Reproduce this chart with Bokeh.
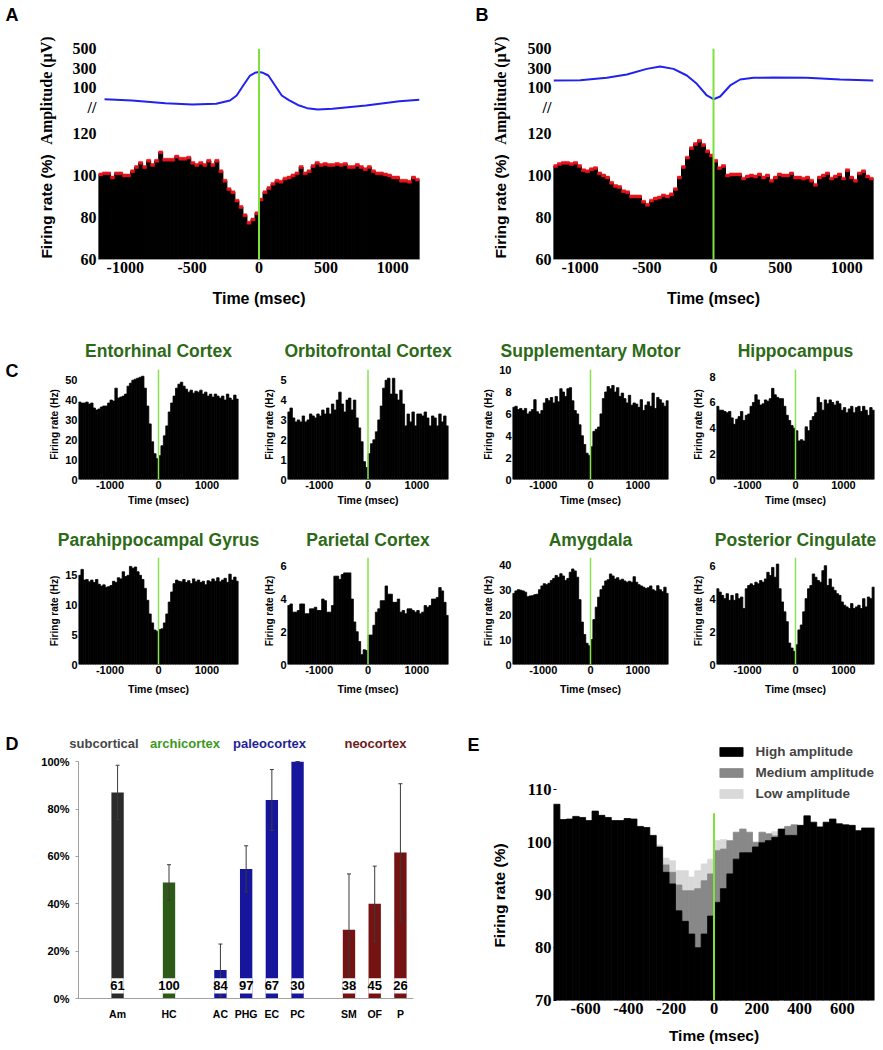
import numpy as np
from bokeh.plotting import figure
from bokeh.layouts import row, column
from bokeh.models import (Range1d, FixedTicker, CustomJSTickFormatter, Span, FactorRange,
                          ColumnDataSource, Legend, LegendItem, PrintfTickFormatter)
from bokeh.core.properties import value
from bokeh.embed import file_html
from bokeh.resources import INLINE

NaN = float("nan")

# ---------------- data ----------------
# Panels A / B : population firing rate (% of baseline), 30 ms bins from -1200 ms
AB_BIN_START, AB_BIN_WIDTH = -1200, 30
A_RATE = [100.5, 101, 101, 99, 101, 101, 100, 100, 102, 104,
          106, 104, 107, 105, 107, 111, 107.5, 107.5, 107.5, 109,
          108, 108, 108.5, 106, 105, 106, 105, 107, 105, 107,
          102, 97.5, 93.5, 92, 88, 85, 81, 77.5, 79, 82,
          88.5, 92, 94, 96, 97.5, 97, 98.5, 99, 100, 101,
          104, 101, 102, 104.5, 106, 105, 105.5, 105, 105, 105.5,
          105, 105.5, 104, 104, 105, 104, 103, 104, 102, 101,
          101, 100.5, 100, 99, 99, 97.5, 97.5, 97, 99, 98]
B_RATE = [104.5, 105.5, 106, 106, 105.5, 106, 104.5, 102.5, 102, 103,
          103.5, 101, 100, 99, 96.5, 95, 94.5, 92.5, 92, 90,
          90, 90, 87.5, 86, 88, 89, 89.5, 90.5, 90, 91,
          93.5, 99, 104, 108.5, 113, 115, 116.5, 114.5, 111.5, 109.5,
          107, 103.5, 104.5, 100, 100.5, 100.5, 100.5, 98.5, 99.5, 100,
          99.5, 100.5, 99, 100, 97.5, 99, 100.5, 100, 100, 101,
          99, 99, 98.5, 99, 97.5, 95.5, 99, 100, 101, 98.5,
          99.5, 100.5, 98.5, 102.5, 99, 97.5, 101, 102, 99.5, 98.5]
AB_SEM = 0.7
# mean LFP amplitude (uV) traces
A_AMP_T = [-1155, -950, -700, -500, -320, -217, -167, -118, -67, -30, 0, 30, 70, 120, 170, 220,
           290, 360, 440, 550, 800, 1050, 1200]
A_AMP_UV = [-15, -28, -56, -69, -62, -28, 23, 126, 228, 256, 264, 256, 228, 126, 23, -21,
            -74, -107, -121, -114, -80, -35, -21]
B_AMP_T = [-1200, -1000, -800, -650, -500, -400, -300, -200, -125, -50, 0, 50, 125, 200, 300,
           450, 700, 950, 1200]
B_AMP_UV = [177, 180, 204, 238, 296, 320, 296, 228, 143, 23, -15, 13, 126, 187, 204,
            208, 204, 187, 177]
AMP_TICKS = [100, 300, 500]
AMP_BREAK = -100          # where the "//" axis-break mark sits on the amplitude scale
FR_TICKS = [60, 80, 100, 120]
AB_TIME_TICKS = [-1000, -500, 0, 500, 1000]

# Panel C : firing rate (Hz), 50 ms bins from -1650 ms
C_BIN_START, C_BIN_WIDTH = -1650, 50
C_TIME_TICKS = [-1000, 0, 1000]
EC_RATE = [39, 38.5, 38.5, 39, 38, 38.5, 36, 35, 35.5, 36.5,
           37, 37, 38.5, 40, 39.5, 46, 41, 41.5, 42, 43,
           47, 48.5, 50, 50.5, 51, 51.5, 52, 46, 37, 28,
           19, 13, 10.5, 12, 17, 22, 27, 34, 38.5, 42,
           46, 48, 49, 47, 45.5, 44, 45, 43.5, 44.5, 44,
           45, 43, 44, 42, 43, 41.5, 43, 42, 41, 42,
           40, 43, 41, 40, 42.5, 40.5]
OF_RATE = [3.4, 3.6, 3.1, 2.9, 3.0, 2.9, 3.2, 2.9, 3.0, 3.3,
           3.2, 3.1, 3.3, 3.2, 3.5, 3.3, 3.6, 3.3, 3.8, 3.5,
           4.0, 4.4, 3.8, 3.4, 4.0, 4.1, 3.5, 4.0, 3.1, 2.6,
           1.9, 0.9, 0.6, 1.3, 1.8, 2.0, 2.4, 3.0, 3.7, 4.6,
           5.0, 5.1, 4.3, 5.1, 4.3, 4.0, 4.5, 3.8, 2.7, 3.3,
           2.9, 3.4, 2.7, 3.3, 3.3, 3.2, 3.4, 3.1, 2.7, 3.2,
           3.1, 2.7, 3.3, 2.9, 3.2, 2.7]
SM_RATE = [6.6, 6.7, 6.4, 6.5, 6.3, 6.5, 6.0, 6.2, 6.4, 7.3,
           6.2, 6.0, 6.3, 7.0, 7.4, 7.2, 7.5, 7.0, 7.6, 7.1,
           8.3, 8.0, 7.6, 8.3, 8.4, 7.2, 6.3, 6.0, 5.0, 4.0,
           3.2, 2.4, 2.2, 3.0, 4.4, 4.6, 4.8, 6.0, 7.4, 8.0,
           8.5, 8.3, 8.6, 8.0, 8.4, 7.6, 7.9, 7.4, 7.0, 7.7,
           6.8, 7.0, 6.9, 6.6, 7.3, 6.3, 6.8, 7.1, 6.7, 7.9,
           6.5, 7.5, 7.3, 7.0, 6.7, 7.2]
HC_RATE = [5.7, 5.4, 5.4, 5.3, 5.2, 5.3, 4.8, 4.3, 4.7, 4.9,
           5.3, 4.6, 5.0, 5.1, 5.7, 6.0, 6.6, 6.2, 5.8, 5.9,
           6.2, 6.1, 6.3, 7.1, 6.6, 6.4, 6.3, 6.3, 5.7, 5.0,
           4.6, 4.2, 4.0, 3.8, 3.0, 3.1, 3.0, 4.1, 3.8, 4.6,
           4.9, 5.2, 6.4, 6.0, 5.4, 6.2, 5.9, 6.2, 6.0, 5.8,
           6.1, 5.9, 5.4, 5.6, 5.2, 5.5, 5.7, 5.2, 5.6, 5.7,
           5.3, 5.7, 5.4, 5.0, 5.6, 5.4]
PHG_RATE = [15.0, 16.0, 14.2, 14.3, 13.9, 14.2, 13.8, 14.3, 13.5, 13.2,
            13.4, 13.0, 13.1, 13.3, 14.0, 13.8, 14.6, 14.4, 15.6, 14.8,
            15.0, 16.5, 16.2, 16.4, 15.6, 15.0, 14.3, 12.8, 10.8, 8.5,
            7.0, 5.8, 5.6, 5.9, 6.0, 7.0, 8.5, 10.5, 12.2, 13.6,
            14.2, 14.0, 13.9, 14.3, 13.8, 14.1, 13.6, 14.4, 13.9, 14.2,
            13.8, 14.0, 13.4, 14.1, 13.9, 14.4, 14.0, 14.6, 13.9, 14.2,
            14.5, 13.8, 15.2, 14.2, 14.7, 14.0]
PAR_RATE = [3.6, 3.7, 3.2, 3.2, 3.3, 3.7, 3.7, 3.1, 3.1, 3.4,
            3.4, 3.5, 3.3, 3.3, 4.0, 3.9, 3.2, 3.2, 3.6, 5.4,
            5.4, 5.2, 5.5, 5.6, 5.6, 5.6, 4.0, 2.6, 2.0, 1.4,
            0.6, 0.9, 0.85, 1.8, 1.8, 2.4, 3.2, 3.4, 3.9, 3.9,
            4.8, 4.3, 4.3, 3.8, 3.8, 4.0, 3.2, 3.3, 3.1, 3.4,
            3.4, 3.3, 3.2, 3.3, 3.1, 3.2, 3.6, 3.5, 3.6, 4.0,
            4.0, 4.1, 4.7, 4.5, 3.8, 3.0]
AM_RATE = [28.5, 29.5, 30.0, 29.8, 29.5, 29.0, 27.2, 27.5, 27.6, 28.0,
           28.2, 30.0, 31.5, 32.4, 32.0, 32.6, 33.7, 34.5, 35.7, 35.0,
           36.4, 35.5, 33.7, 34.5, 37.0, 38.3, 37.5, 35.0, 26.0, 17.0,
           12.0, 8.5, 7.5, 10.0, 18.0, 23.0, 27.0, 30.0, 31.5, 33.5,
           34.0, 36.3, 35.5, 34.3, 34.8, 33.8, 34.2, 33.5, 33.0, 33.4,
           33.0, 35.2, 33.0, 32.0, 31.5, 31.0, 30.5, 30.8, 31.5, 30.0,
           29.5, 31.6, 30.0, 29.2, 31.0, 28.5]
PCG_RATE = [4.6, 4.4, 4.2, 4.0, 4.3, 3.9, 4.2, 3.9, 4.3, 4.0,
            4.1, 3.4, 4.6, 4.8, 4.9, 4.8, 5.0, 4.9, 5.1, 5.0,
            5.2, 5.6, 5.4, 5.9, 5.3, 6.1, 4.6, 3.8, 3.2, 2.6,
            1.3, 1.0, 0.8, 1.2, 2.1, 2.4, 3.2, 4.0, 4.6, 4.8,
            5.5, 5.3, 5.1, 5.0, 5.7, 6.0, 4.8, 5.2, 4.7, 4.5,
            4.3, 4.2, 3.8, 3.6, 3.5, 3.4, 3.7, 3.4, 3.5, 3.6,
            3.4, 4.0, 3.5, 4.1, 4.0, 4.7]

# Panel D : percentage of neurons, per region
D_GROUPS = ["subcortical", "archicortex", "paleocortex", "neocortex"]
D_REGIONS = ["Am", "HC", "AC", "PHG", "EC", "PC", "SM", "OF", "P"]
D_REGION_GROUP = ["subcortical", "archicortex", "paleocortex", "paleocortex", "paleocortex",
                  "paleocortex", "neocortex", "neocortex", "neocortex"]
D_PCT = [87, 49, 12, 54.7, 83.8, 100, 29, 40, 61.7]
D_ERR_LO = [75.5, 41.6, 1, 45, 71, 100, 5, 24, 32.4]
D_ERR_HI = [98.5, 56.5, 23, 64.5, 96.7, 100, 52.6, 55.9, 90.7]
D_N = [61, 100, 84, 97, 67, 30, 38, 45, 26]
D_PCT_TICKS = [0, 20, 40, 60, 80, 100]

# Panel E : firing rate (%) by amplitude class, 30 ms bins from -750 ms
E_BIN_START, E_BIN_WIDTH = -750, 30
E_HIGH = [107.2, 104.3, 104.4, 104.9, 104.7, 104.1, 105.9, 105.1, 104.7, 104.1,
          104.1, 104.5, 104.4, 103.0, 102.8, 101.3, 99.1, 94.3, 92.1, 87.0,
          85.0, 82.6, 80.0, 82.6, 86.0, 88.6, 91.2, 94.0, 96.8, 98.0,
          98.0, 99.1, 99.9, 100.3, 100.9, 102.5, 101.3, 101.3, 103.2, 105.0,
          103.8, 102.9, 103.8, 104.4, 103.5, 103.3, 103.2, 102.2, 102.7, 102.7]
E_MED = [NaN] * 17 + [95.7, 94.3, 91.9, 90.8, 90.8, 91.2, 92.7, 94.0, 98.4, 98.7,
                      100.3, 101.9, 102.5, 101.9, 100.0, 101.9, 101.6, 101.2, NaN, 103.0,
                      103.3] + [NaN] * 12
E_LOW = [NaN] * 16 + [99.5, 97.0, 96.5, 94.6, 94.6, 93.4, 94.6, 95.9, 96.8, 100.3,
                      100.5, NaN, NaN, NaN, NaN, NaN, NaN, NaN, 102.0] + [NaN] * 15
E_ZERO_LINE = [70, 105.5]
E_Y_TICKS = [70, 80, 90, 100, 110]
E_TIME_TICKS = [-600, -400, -200, 0, 200, 400, 600]

# ---------------- styling ----------------
SANS = "Liberation Sans"
SERIF = "Liberation Serif"
GREEN = "#7de23c"
C_GREEN = "#86e450"
C_GREEN_TITLE = "#2d6a17"


def base_fig(width, height, x_range, y_range, left, right, top, bottom):
    p = figure(width=width, height=height, x_range=x_range, y_range=y_range,
               output_backend="svg", toolbar_location=None,
               min_border_left=left, min_border_right=right,
               min_border_top=top, min_border_bottom=bottom)
    p.grid.visible = False
    p.outline_line_color = None
    p.background_fill_color = "white"
    p.border_fill_color = "white"
    return p


def text_strip(width, height):
    """Axis-less figure whose frame is the whole canvas, used for panel letters and side titles."""
    p = figure(width=width, height=height, x_range=Range1d(0, width), y_range=Range1d(0, height),
               output_backend="svg", toolbar_location=None, min_border=0,
               x_axis_type=None, y_axis_type=None)
    p.grid.visible = False
    p.outline_line_color = None
    p.background_fill_color = "white"
    p.border_fill_color = "white"
    return p


def strip_text(p, x, y_from_top, text, font=SANS, size="18px", angle=0.0, align="left",
               color="black", style="bold"):
    p.text(x=[x], y=[p.height - y_from_top], text=[text], angle=angle,
           text_align=align, text_baseline="middle", text_font=value(font),
           text_font_size=size, text_font_style=style, text_color=color)


def style_axis(ax, font, size, standoff):
    ax.major_label_text_font = font
    ax.major_label_text_font_size = size
    ax.major_label_text_font_style = "bold"
    ax.major_label_text_color = "black"
    ax.major_label_standoff = standoff
    ax.major_tick_line_color = None
    ax.major_tick_out = 0
    ax.major_tick_in = 0
    ax.minor_tick_line_color = None
    ax.minor_tick_out = 0
    ax.axis_line_color = None


def axis_title(ax, text, font, size, standoff):
    ax.axis_label = text
    ax.axis_label_text_font = font
    ax.axis_label_text_font_size = size
    ax.axis_label_text_font_style = "bold"
    ax.axis_label_text_color = "black"
    ax.axis_label_standoff = standoff


# ---------------- panels A / B ----------------
FR_LO, FR_HI = 59.95, 160.5
AMP_LO, AMP_HI = -1659.0, 505.0


def amp_to_fr(a):
    return FR_LO + (a - AMP_LO) * (FR_HI - FR_LO) / (AMP_HI - AMP_LO)


def make_ab(rate, amp_t, amp_v, width, left, right):
    p = base_fig(width, 320, Range1d(-1200, 1200), Range1d(FR_LO, FR_HI), left, right, 48, 61)
    p.extra_y_ranges = {"amp": Range1d(AMP_LO, AMP_HI)}
    r = np.array(rate, dtype=float)
    edges = AB_BIN_START + AB_BIN_WIDTH * np.arange(len(r) + 1)
    p.quad(left=edges[:-1], right=edges[1:], bottom=FR_LO, top=r,
           fill_color="black", line_color="black", line_width=1)
    p.quad(left=edges[:-1], right=edges[1:], bottom=r - AB_SEM, top=r + AB_SEM,
           fill_color="#e8141b", line_color="#e8141b", line_width=0.5)
    p.line(amp_t, amp_v, y_range_name="amp", line_color="#2222ee", line_width=2)
    p.add_layout(Span(location=0, dimension="height", line_color=GREEN, line_width=2))

    ya = p.yaxis[0]
    ya.ticker = FixedTicker(ticks=FR_TICKS + [amp_to_fr(a) for a in [AMP_BREAK] + AMP_TICKS])
    ya.formatter = CustomJSTickFormatter(
        args=dict(f0=FR_LO, f1=FR_HI, a0=AMP_LO, a1=AMP_HI, split=FR_TICKS[-1] + 5),
        code="""
        if (tick < split) { return tick.toFixed(0); }
        const a = a0 + (tick - f0) * (a1 - a0) / (f1 - f0);
        if (a < 0) { return "//"; }
        return a.toFixed(0);
        """)
    style_axis(ya, SERIF, "16px", 2)

    xa = p.xaxis[0]
    xa.ticker = FixedTicker(ticks=AB_TIME_TICKS)
    xa.formatter = PrintfTickFormatter(format="%d")
    style_axis(xa, SERIF, "16px", 2)
    xa.axis_line_color = "#9a9a9a"
    axis_title(xa, "Time (msec)", SANS, "16px", 14)
    return p


sA = text_strip(58, 320)
strip_text(sA, 5, 14, "A")
strip_text(sA, 45.5, 90, "Amplitude (\u00b5V)", font=SERIF, size="16px", angle=np.pi / 2,
           align="center")
strip_text(sA, 45.5, 206, "Firing rate (%)", size="15.5px", angle=np.pi / 2, align="center")
pA = make_ab(A_RATE, A_AMP_T, A_AMP_UV, 382, 40, 21)

sB = text_strip(72, 320)
strip_text(sB, 35, 14, "B")
strip_text(sB, 59.5, 90, "Amplitude (\u00b5V)", font=SERIF, size="16px", angle=np.pi / 2,
           align="center")
strip_text(sB, 59.5, 206, "Firing rate (%)", size="15.5px", angle=np.pi / 2, align="center")
pB = make_ab(B_RATE, B_AMP_T, B_AMP_UV, 371, 41, 10)


# ---------------- panel C ----------------
def make_c(title, rate, ytop, yticks, width, left, right, height, top, bottom,
           title_standoff, xlab_standoff):
    n = len(rate)
    x_end = C_BIN_START + C_BIN_WIDTH * n
    p = base_fig(width, height, Range1d(C_BIN_START, x_end), Range1d(0, ytop),
                 left, right, top, bottom)
    edges = C_BIN_START + C_BIN_WIDTH * np.arange(n + 1)
    p.quad(left=edges[:-1], right=edges[1:], bottom=0, top=rate,
           fill_color="black", line_color="black", line_width=0.8)
    p.add_layout(Span(location=0, dimension="height", line_color=C_GREEN, line_width=1.5))
    p.title.text = title
    p.title.align = "center"
    p.title.text_font = SANS
    p.title.text_font_size = "17.5px"
    p.title.text_font_style = "bold"
    p.title.text_color = C_GREEN_TITLE
    p.title.standoff = title_standoff

    ya = p.yaxis[0]
    ya.ticker = FixedTicker(ticks=yticks)
    style_axis(ya, SANS, "11px", 1)
    axis_title(ya, "Firing rate (Hz)", SANS, "10px", 2)

    xa = p.xaxis[0]
    xa.ticker = FixedTicker(ticks=C_TIME_TICKS)
    xa.formatter = PrintfTickFormatter(format="%d")
    style_axis(xa, SANS, "11px", 1)
    axis_title(xa, "Time (msec)", SANS, "10.5px", xlab_standoff)
    return p


sC = text_strip(28, 200)
strip_text(sC, 5, 50, "C")
c1 = make_c("Entorhinal Cortex", EC_RATE, 55.4, [0, 10, 20, 30, 40, 50],
            232, 50, 22, 200, 49, 41, 18, 2)
c2 = make_c("Orbitofrontal Cortex", OF_RATE, 5.54, [0, 1, 2, 3, 4, 5],
            220, 27, 32, 200, 49, 41, 18, 2)
c3 = make_c("Supplementary Motor", SM_RATE, 10.06, [0, 2, 4, 6, 8, 10],
            210, 28, 22, 200, 49, 41, 18, 2)
c4 = make_c("Hippocampus", HC_RATE, 8.57, [0, 2, 4, 6, 8],
            193, 24, 9, 200, 49, 41, 18, 2)
c5 = make_c("Parahippocampal Gyrus", PHG_RATE, 18.0, [0, 5, 10, 15],
            260, 78, 22, 180, 35, 36, 15, 6)
c6 = make_c("Parietal Cortex", PAR_RATE, 6.54, [0, 2, 4, 6],
            220, 27, 32, 180, 35, 36, 15, 6)
c7 = make_c("Amygdala", AM_RATE, 42.9, [0, 10, 20, 30, 40],
            210, 28, 22, 180, 35, 36, 15, 6)
c8 = make_c("Posterior Cingulate", PCG_RATE, 6.5, [0, 2, 4, 6],
            193, 24, 9, 180, 35, 36, 15, 6)

# ---------------- panel D ----------------
D_BAR_COLORS = {"subcortical": "#2b2b2b", "archicortex": "#2e5a18",
                "paleocortex": "#16169c", "neocortex": "#751212"}
D_HEADER_COLORS = ["#474747", "#3c9a22", "#1f1f98", "#6e1b1b"]
D_HEADER_X = [103.5, 184.5, 269, 375]     # header centres (px) in the strip above panel D
D_NBOX = (2.1, 8.6)
D_N_Y = 5.4

sD = text_strip(460, 52)
strip_text(sD, 5, 43, "D")
for gx, g, gc in zip(D_HEADER_X, D_GROUPS, D_HEADER_COLORS):
    strip_text(sD, gx, 43, g, size="13px", align="center", color=gc)

d_factors = list(zip(D_REGION_GROUP, D_REGIONS))
pD = base_fig(460, 298, FactorRange(factors=d_factors, group_padding=1.0, range_padding=0.17),
              Range1d(0, 102.2), 78, 21, 4, 52)
dsrc = ColumnDataSource(dict(x=d_factors, pct=D_PCT, lo=D_ERR_LO, hi=D_ERR_HI,
                             n=[str(v) for v in D_N],
                             color=[D_BAR_COLORS[g] for g in D_REGION_GROUP]))
pD.vbar(x="x", top="pct", width=0.48, fill_color="color", line_color=None, source=dsrc)
pD.segment(x0="x", y0="lo", x1="x", y1="hi", line_color="#3a3a3a", line_width=1, source=dsrc)
pD.scatter(x="x", y="hi", marker="dash", size=4, line_color="#3a3a3a", source=dsrc)
pD.scatter(x="x", y="lo", marker="dash", size=4, line_color="#3a3a3a", source=dsrc)
pD.vbar(x="x", bottom=D_NBOX[0], top=D_NBOX[1], width=0.48, fill_color="white",
        line_color=None, source=dsrc)
pD.text(x="x", y=D_N_Y, text="n", source=dsrc, text_align="center", text_baseline="middle",
        text_font=value(SANS), text_font_style="bold", text_font_size="13px", text_color="black")

ya = pD.yaxis[0]
ya.ticker = FixedTicker(ticks=D_PCT_TICKS)
ya.formatter = PrintfTickFormatter(format="%d%%")
style_axis(ya, SANS, "11px", 6)
ya.bounds = (0, 100)
ya.axis_line_color = "#a0a0a0"
ya.major_tick_line_color = "#a0a0a0"
ya.major_tick_out = 3

xa = pD.xaxis[0]
style_axis(xa, SANS, "10.5px", 9)
xa.axis_line_color = "#a0a0a0"
xa.group_text_font_size = "0px"
xa.group_text_color = None
xa.separator_line_color = None
xa.bounds = (-1.1, 12.0)

# ---------------- panel E ----------------
sE = text_strip(55, 350)
strip_text(sE, 7, 44, "E")
strip_text(sE, 39, 195, "Firing rate (%)", size="15.5px", angle=np.pi / 2, align="center")

pE = base_fig(368, 350, Range1d(-750, 750), Range1d(70, 118.53), 38, 9, 44, 50)
e_edges = E_BIN_START + E_BIN_WIDTH * np.arange(len(E_HIGH) + 1)
r_low = pE.quad(left=e_edges[:-1], right=e_edges[1:], bottom=70, top=E_LOW,
                fill_color="#d9d9d9", line_color="#d9d9d9", line_width=0.8)
r_med = pE.quad(left=e_edges[:-1], right=e_edges[1:], bottom=70, top=E_MED,
                fill_color="#888888", line_color="#888888", line_width=0.8)
r_high = pE.quad(left=e_edges[:-1], right=e_edges[1:], bottom=70, top=E_HIGH,
                 fill_color="black", line_color="black", line_width=0.8)
pE.segment(x0=0, y0=E_ZERO_LINE[0], x1=0, y1=E_ZERO_LINE[1], line_color=GREEN, line_width=2)
legend = Legend(items=[LegendItem(label="High amplitude", renderers=[r_high]),
                       LegendItem(label="Medium amplitude", renderers=[r_med]),
                       LegendItem(label="Low amplitude", renderers=[r_low])],
                location="top_right", orientation="vertical", border_line_color=None,
                background_fill_alpha=0, glyph_width=29, glyph_height=11, label_standoff=10,
                spacing=6, padding=0, margin=0, label_height=15,
                label_text_font=SANS, label_text_font_style="bold",
                label_text_font_size="13.5px")
pE.add_layout(legend)

ya = pE.yaxis[0]
ya.ticker = FixedTicker(ticks=E_Y_TICKS)
style_axis(ya, SERIF, "16.5px", 2)
ya.major_tick_line_color = "black"
ya.major_tick_in = 3
xa = pE.xaxis[0]
xa.ticker = FixedTicker(ticks=E_TIME_TICKS)
xa.formatter = PrintfTickFormatter(format="%d")
style_axis(xa, SERIF, "16.5px", 2)
axis_title(xa, "Time (msec)", SANS, "15.5px", 10)

# text strips are wrapped in their own layout so their frames are not aligned to neighbours
layout = column(
    row(column(sA), pA, column(sB), pB),
    row(column(sC), c1, c2, c3, c4),
    row(c5, c6, c7, c8),
    row(column(row(sD), pD), column(sE), pE),
)
open("out.html", "w").write(file_html(layout, INLINE))
